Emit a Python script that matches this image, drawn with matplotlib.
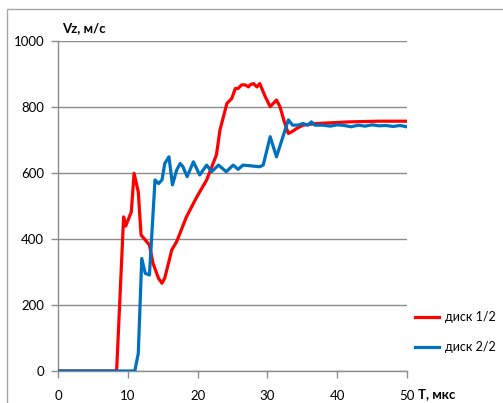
import matplotlib
matplotlib.use("Agg")
import matplotlib.pyplot as plt
from matplotlib.patches import Rectangle

plt.rcParams["font.family"] = ["Lato", "DejaVu Sans"]

# диск 1/2
t_red = [0, 8.4, 9.4, 9.7, 10.5, 10.9, 11.5, 11.9, 12.5, 13.1, 13.6, 14.4, 14.9, 15.3,
         16.3, 17.0, 18.4, 19.9, 21.3, 22.7, 23.2, 24.2, 24.9, 25.4, 25.8, 26.3, 26.8,
         27.3, 27.5, 28.0, 28.5, 28.9, 29.7, 30.4, 31.3, 31.8, 32.5, 33.0, 33.5, 34.2,
         35.1, 37.1, 41.8, 46.0, 50.0]
v_red = [0, 0, 467, 439, 482, 599, 543, 412, 397, 382, 327, 281, 266, 282,
         367, 392, 467, 528, 579, 655, 730, 811, 826, 856, 856, 867, 867,
         861, 867, 871, 861, 871, 831, 801, 821, 801, 750, 720, 725, 735,
         745, 750, 755, 757, 757]

# диск 2/2
t_blue = [0, 11.0, 11.5, 12.0, 12.5, 13.1, 13.9, 14.4, 14.9, 15.3, 15.9, 16.4, 17.0,
          17.5, 17.9, 18.5, 19.4, 20.3, 21.3, 22.0, 23.0, 24.1, 25.1, 25.8, 26.5,
          28.9, 29.4, 30.4, 31.3, 33.0, 33.6, 34.4, 35.1, 35.8, 36.3, 36.8, 38, 39,
          40, 41, 42, 43, 44, 45, 46, 47, 48, 49, 50]
v_blue = [0, 0, 53, 341, 296, 291, 579, 568, 579, 629, 649, 564, 609,
          629, 619, 589, 634, 594, 624, 604, 624, 604, 624, 611, 624,
          619, 624, 710, 649, 761, 745, 745, 750, 745, 755, 745, 745, 742,
          746, 744, 740, 745, 742, 746, 743, 744, 741, 744, 740]

x_ticks = [0, 10, 20, 30, 40, 50]
y_ticks = [0, 200, 400, 600, 800, 1000]

fig = plt.figure(figsize=(5.03, 4.03), dpi=100)
W, H = 503, 403
ax = fig.add_axes([58 / W, 1 - 371 / H, 349 / W, 330 / H])

grey = "#8c8c8c"
ax.plot(t_red, v_red, color="#ff0000", lw=2.3, label="диск 1/2", zorder=3)
ax.plot(t_blue, v_blue, color="#0070c0", lw=2.3, label="диск 2/2", zorder=4)

ax.set_xlim(0, 50)
ax.set_ylim(0, 1000)
ax.set_xticks(x_ticks)
ax.set_yticks(y_ticks)
ax.grid(axis="y", color=grey, lw=1)
ax.set_axisbelow(True)
for s in ["top", "right"]:
    ax.spines[s].set_visible(False)
for s in ["left", "bottom"]:
    ax.spines[s].set_color(grey)
    ax.spines[s].set_linewidth(1)
ax.tick_params(axis="both", colors=grey, length=5, width=1, labelsize=9.5,
               labelcolor="black")
ax.tick_params(axis="x", pad=9)
ax.tick_params(axis="y", pad=5)

fig.text(62 / W, 1 - 28 / H, "Vz, м/с", fontsize=9.5, fontweight="bold", va="center")
fig.text(418 / W, 1 - 394 / H, "T, мкс", fontsize=9.5, fontweight="bold", va="center")

ax.legend(loc="center left", bbox_to_anchor=(404 / W, 1 - 332 / H),
          bbox_transform=fig.transFigure, frameon=False, fontsize=9,
          handlelength=1.9, handletextpad=0.5, labelspacing=1.45)

# рамка области диаграммы
fig.patches.append(Rectangle((7 / W, -0.1), 1.2, 1 - 9 / H + 0.1,
                             transform=fig.transFigure, fill=False,
                             edgecolor="#a6a6a6", lw=1))

fig.savefig("out.png", dpi=100)
